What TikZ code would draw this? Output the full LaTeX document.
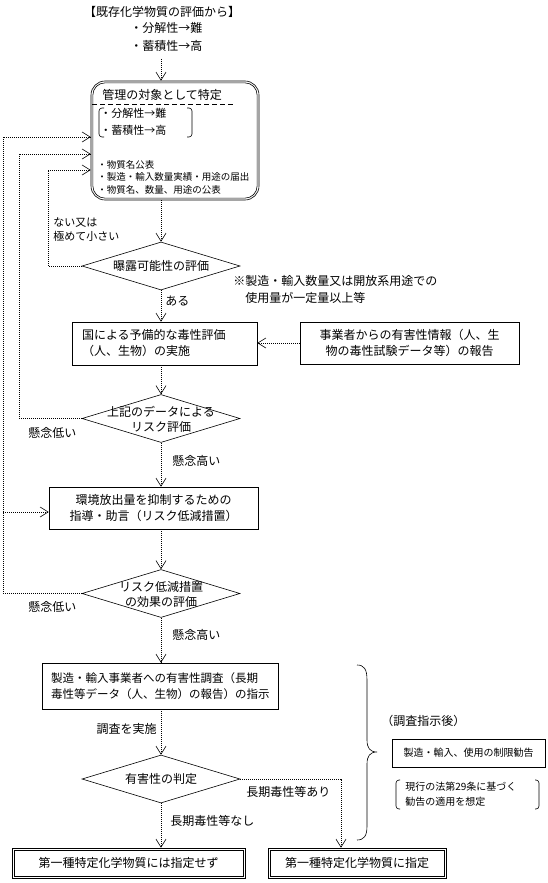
\documentclass[tikz,border=0pt]{standalone}
\usepackage{fontspec}
\setmainfont{Noto Sans CJK JP}
\usepackage{tikz}
\usetikzlibrary{arrows.meta,positioning,calc,shapes.geometric}

\begin{document}
\begin{tikzpicture}[x=1pt,y=-1pt,line width=0.6pt,
  >={Straight Barb[length=8pt,width=10pt]},
  font=\fontsize{12}{16}\selectfont,
  flow/.style={->,dash pattern=on 1pt off 1pt},
  box/.style={draw,rectangle,inner sep=0pt,align=center},
  dia/.style={draw,diamond,inner sep=0pt,minimum width=158pt,minimum height=48pt},
  lbl/.style={anchor=west,align=left,inner sep=0pt},
  small/.style={font=\fontsize{9.5}{12.5}\selectfont}]
  \fill[white] (0,0) rectangle (548,883);
  \path[use as bounding box] (0,0) rectangle (548,883);

  \node (src) at (162,12) {【既存化学物質の評価から】};
  \node[lbl,font=\fontsize{12}{18}\selectfont] (srcP) at (130,37) {・分解性→難\\・蓄積性→高};
  \coordinate (srcE) at (161,59);

  \node[box,minimum width=168pt,minimum height=119pt,rounded corners=14pt] (mgmt) at (175,140.5) {};
  \draw[rounded corners=12pt] ($(mgmt.south west)+(2.2pt,2.2pt)$) rectangle ($(mgmt.north east)+(-2.2pt,-2.2pt)$);
  \node[lbl] (mgmtT) at (102,95) {管理の対象として特定};
  \draw[dash pattern=on 5pt off 3pt] (92,104) -- (235,104);
  \draw[rounded corners=3pt] (104,108) -- (99,108) -- (99,137) -- (104,137);
  \draw[rounded corners=3pt] (187,108) -- (192,108) -- (192,137) -- (187,137);
  \node[lbl,font=\fontsize{11}{17}\selectfont] (mgmtP) at (100,122) {・分解性→難\\・蓄積性→高};
  \node[lbl,small] (mgmtL) at (97,177) {・物質名公表\\・製造・輸入数量実績・用途の届出\\・物質名、数量、用途の公表};

  \node[dia] (expo) at (161,266) {};
  \node (expoT) at (expo) {曝露可能性の評価};
  \node[lbl,font=\fontsize{11}{14}\selectfont] (noneT) at (53,230) {ない又は\\極めて小さい};
  \node[lbl,font=\fontsize{12}{17}\selectfont] (noteT) at (233,289) {※製造・輸入数量又は開放系用途での\\　使用量が一定量以上等};
  \node[lbl] (isT) at (165,301) {ある};

  \node[box,text width=165pt,align=left,inner xsep=10pt,minimum height=43pt] (prelim) at (164.5,343.5) {国による予備的な毒性評価\\（人、生物）の実施};
  \node[box,minimum width=219pt,minimum height=42pt] (report) at (409.5,343) {事業者からの有害性情報（人、生\\物の毒性試験データ等）の報告};

  \node[dia] (risk) at (161,418.5) {};
  \node[align=center,font=\fontsize{12}{15}\selectfont] (riskT) at (161,419.5) {上記のデータによる\\リスク評価};
  \node[lbl] (lowA) at (28,433) {懸念低い};
  \node[lbl] (highA) at (172,461) {懸念高い};

  \node[box,minimum width=209pt,minimum height=42pt] (guide) at (153.5,508) {環境放出量を抑制するための\\指導・助言（リスク低減措置）};

  \node[dia] (eff) at (161,593.5) {};
  \node[align=center,font=\fontsize{12}{15}\selectfont] (effT) at (161,594.5) {リスク低減措置\\の効果の評価};
  \node[lbl] (lowB) at (28,607) {懸念低い};
  \node[lbl] (highB) at (172,635) {懸念高い};

  \node[box,text width=218pt,align=left,inner xsep=9pt,minimum height=46pt,font=\fontsize{11.5}{16}\selectfont] (order) at (160,686) {製造・輸入事業者への有害性調査（長期\\毒性等データ（人、生物）の報告）の指示};
  \node[anchor=east,inner sep=0pt] (doT) at (157,729) {調査を実施};

  \node[dia] (haz) at (161,779) {};
  \node (hazT) at (haz) {有害性の判定};
  \node[lbl] (yesT) at (246,792) {長期毒性等あり};
  \node[lbl] (noT) at (170,821) {長期毒性等なし};
  \coordinate (yesX) at (341,779);

  \node[box,minimum width=233pt,minimum height=30pt] (notDesig) at (128.5,863) {第一種特定化学物質には指定せず};
  \draw ($(notDesig.south west)+(2.5pt,2.5pt)$) rectangle ($(notDesig.north east)+(-2.5pt,-2.5pt)$);
  \node[box,minimum width=178pt,minimum height=30pt] (desig) at (357,863) {第一種特定化学物質に指定};
  \draw ($(desig.south west)+(2.5pt,2.5pt)$) rectangle ($(desig.north east)+(-2.5pt,-2.5pt)$);

  \draw (357,665) .. controls (364,665) and (367,669) .. (367,680) -- (367,740) .. controls (367,748) and (370,752) .. (377,752) .. controls (370,752) and (367,756) .. (367,764) -- (367,826) .. controls (367,836) and (364,840) .. (357,840);
  \node[lbl] (afterT) at (381,721) {（調査指示後）};
  \node[box,minimum width=153pt,minimum height=28pt,font=\fontsize{10}{12}\selectfont] (limit) at (468.5,753) {製造・輸入、使用の制限勧告};
  \draw[rounded corners=3pt] (400,780) -- (396,780) -- (396,809) -- (400,809);
  \draw[rounded corners=3pt] (535,780) -- (539,780) -- (539,809) -- (535,809);
  \node[lbl,font=\fontsize{10}{15}\selectfont] (lawT) at (405,794) {現行の法第29条に基づく\\勧告の適用を想定};

  \draw[flow] (srcE) -- (srcE |- mgmt.north);
  \draw[flow] (expo.north |- mgmt.south) -- (expo.north);
  \draw[flow] (expo.south) -- (expo.south |- prelim.north);
  \draw[flow] (report.west) -- (report.west -| prelim.east);
  \draw[flow] (risk.north |- prelim.south) -- (risk.north);
  \draw[flow] (risk.south) -- (risk.south |- guide.north);
  \draw[flow] (eff.north |- guide.south) -- (eff.north);
  \draw[flow] (eff.south) -- (eff.south |- order.north);
  \draw[flow] (haz.north |- order.south) -- (haz.north);
  \draw[flow] (haz.south) -- (haz.south |- notDesig.north);
  \draw[flow] (haz.east) -- (yesX) -- (yesX |- desig.north);

  \coordinate (railA) at (48,170);
  \coordinate (railB) at (19,154);
  \coordinate (railC) at (3,137);
  \coordinate (railD) at (3,512);
  \draw[flow] (expo.west) -| (railA) -- (railA -| mgmt.west);
  \draw[flow] (risk.west) -| (railB) -- (railB -| mgmt.west);
  \draw[flow] (eff.west) -| (railC) -- (railC -| mgmt.west);
  \draw[flow] (railD) -- (railD -| guide.west);
\end{tikzpicture}
\end{document}
